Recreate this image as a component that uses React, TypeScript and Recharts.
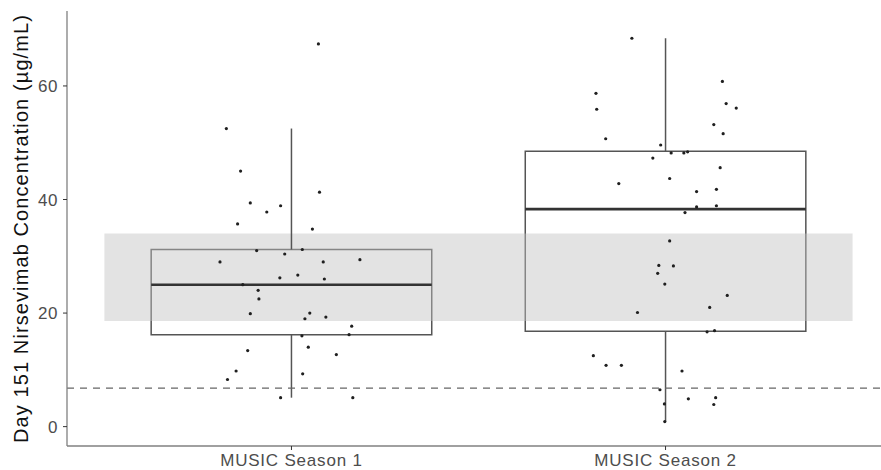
import {
  ComposedChart,
  Scatter,
  XAxis,
  YAxis,
  ReferenceArea,
  ReferenceLine
} from "recharts";

// categories and box statistics
const seasons = ['MUSIC Season 1', 'MUSIC Season 2'];
const whiskerLow = [5.1, 0.9];
const q1 = [16.2, 16.8];
const median = [25.0, 38.3];
const q3 = [31.2, 48.5];
const whiskerHigh = [52.5, 68.4];

// reference band and threshold line
const bandLow = 18.6;
const bandHigh = 34.0;
const threshold = 6.8;

const yTicks = [0, 20, 40, 60];

// jittered points: x position (category + jitter) and concentration
const s1X = [
  1.072, 0.826, 0.864, 0.890, 0.934, 0.971, 0.856, 1.075, 1.056, 0.907,
  0.982, 1.029, 0.809, 1.085, 1.183, 0.969, 1.017, 1.088, 0.870, 0.911,
  0.913, 0.890, 1.036, 1.049, 1.092, 1.161, 1.154, 1.028, 1.045, 0.883,
  1.120, 0.852, 1.030, 0.829, 0.971, 1.164
];
const s1Y = [
  67.4, 52.5, 45.0, 39.4, 37.8, 38.9, 35.7, 41.3, 34.8, 31.0,
  30.4, 31.2, 29.0, 29.0, 29.4, 26.2, 26.7, 26.0, 25.0, 24.0,
  22.5, 19.9, 19.0, 20.0, 19.3, 17.7, 16.2, 16.0, 14.0, 13.4,
  12.7, 9.8, 9.3, 8.3, 5.1, 5.1
];
const s2X = [
  1.910, 1.814, 1.816, 1.840, 1.987, 2.152, 2.162, 2.189, 2.129, 2.154,
  2.015, 2.049, 2.059, 1.966, 2.146, 1.875, 2.011, 2.083, 2.136, 2.083,
  2.136, 2.052, 2.011, 1.982, 2.021, 1.979, 1.998, 2.165, 2.118, 1.925,
  2.111, 2.131, 1.807, 1.841, 1.882, 2.044, 1.985, 2.061, 2.134, 2.129,
  1.997, 1.998
];
const s2Y = [
  68.4, 58.7, 55.9, 50.7, 49.6, 60.8, 56.9, 56.1, 53.2, 51.6,
  48.2, 48.2, 48.4, 47.3, 45.6, 42.8, 43.7, 41.4, 41.8, 38.7,
  38.9, 37.7, 32.7, 28.4, 28.3, 27.0, 25.1, 23.1, 21.0, 20.1,
  16.7, 16.9, 12.5, 10.8, 10.8, 9.8, 6.5, 4.9, 5.1, 3.9,
  4.0, 0.9
];

const points = [
  ...s1X.map((x, i) => ({ x, y: s1Y[i] })),
  ...s2X.map((x, i) => ({ x, y: s2Y[i] }))
];

const HALF = 0.375;
const boxStroke = '#555555';
const font = 'Liberation Sans, Arial, sans-serif';

const Dot = (props: any) => (
  <circle cx={props.cx} cy={props.cy} r={1.6} fill="#1f1f1f" />
);

const YLabel = (props: any) => {
  const vb = props.viewBox;
  const cy = vb.y + vb.height / 2;
  return (
    <text
      x={28}
      y={cy}
      transform={`rotate(-90, 28, ${cy})`}
      textAnchor="middle"
      fontSize={20}
      letterSpacing={1.1}
      fontFamily={font}
      fill="#111"
    >
      Day 151 Nirsevimab Concentration (µg/mL)
    </text>
  );
};

export default function App() {
  return (
    <div style={{ position: 'absolute', left: 0, top: 0, width: 881, height: 470, overflow: 'hidden', background: '#fff' }}>
      <ComposedChart
        width={890}
        height={470}
        data={points}
        margin={{ top: 11, right: 0, bottom: 0, left: 0 }}
      >
        <XAxis
          type="number"
          dataKey="x"
          domain={[0.4, 2.6]}
          ticks={[1, 2]}
          tickFormatter={(v) => seasons[v - 1]}
          allowDataOverflow
          height={24}
          tickSize={4}
          tickMargin={4}
          axisLine={{ stroke: '#808080', strokeWidth: 1.3 }}
          tickLine={{ stroke: '#333' }}
          tick={{ fill: '#4d4d4d', fontSize: 17, letterSpacing: 0.8, fontFamily: font }}
        />
        <XAxis
          xAxisId="top"
          orientation="top"
          type="number"
          domain={[0.4, 2.6]}
          height={0}
          tick={false}
          tickLine={false}
          axisLine={{ stroke: '#808080', strokeWidth: 1.3 }}
        />
        <YAxis
          type="number"
          domain={[-3.41, 73.2]}
          ticks={yTicks}
          allowDataOverflow
          width={67}
          tickSize={4}
          tickMargin={5}
          axisLine={{ stroke: '#808080', strokeWidth: 1.3 }}
          tickLine={{ stroke: '#333' }}
          tick={{ fill: '#4d4d4d', fontSize: 17, letterSpacing: 0.5, fontFamily: font }}
          label={{ content: YLabel }}
        />
        {seasons.map((s, i) => (
          <ReferenceArea
            key={`box-${s}`}
            x1={i + 1 - HALF}
            x2={i + 1 + HALF}
            y1={q1[i]}
            y2={q3[i]}
            fill="none"
            fillOpacity={0}
            stroke={boxStroke}
            strokeWidth={1.5}
          />
        ))}
        {seasons.map((s, i) => (
          <ReferenceLine
            key={`med-${s}`}
            segment={[{ x: i + 1 - HALF, y: median[i] }, { x: i + 1 + HALF, y: median[i] }]}
            stroke="#333"
            strokeWidth={2.6}
          />
        ))}
        {seasons.map((s, i) => (
          <ReferenceLine
            key={`wh-${s}`}
            segment={[{ x: i + 1, y: q3[i] }, { x: i + 1, y: whiskerHigh[i] }]}
            stroke={boxStroke}
            strokeWidth={1.5}
          />
        ))}
        {seasons.map((s, i) => (
          <ReferenceLine
            key={`wl-${s}`}
            segment={[{ x: i + 1, y: whiskerLow[i] }, { x: i + 1, y: q1[i] }]}
            stroke={boxStroke}
            strokeWidth={1.5}
          />
        ))}
        <ReferenceLine
          y={threshold}
          stroke="#666"
          strokeWidth={1.3}
          strokeDasharray="7 6"
        />
        <Scatter dataKey="y" shape={Dot} isAnimationActive={false} />
        <ReferenceArea
          x1={0.5}
          x2={2.5}
          y1={bandLow}
          y2={bandHigh}
          fill="#c0c0c0"
          fillOpacity={0.45}
          stroke="none"
        />
      </ComposedChart>
    </div>
  );
}
